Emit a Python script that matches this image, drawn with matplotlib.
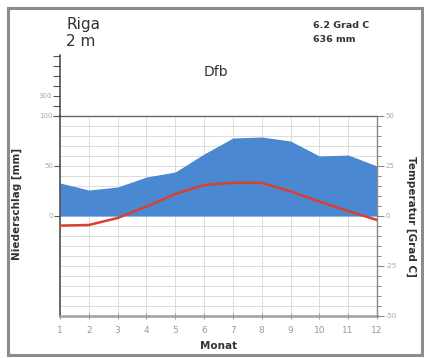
import matplotlib
matplotlib.use("Agg")
import matplotlib.pyplot as plt
from matplotlib.patches import Rectangle
from matplotlib.ticker import MultipleLocator, FixedLocator

# Climate diagram data (Walter-Lieth style)
months = list(range(1, 13))
month_labels = [str(m) for m in months]
precip_mm = [33, 26, 29, 39, 44, 62, 78, 79, 75, 60, 61, 50]
temp_c = [-4.8, -4.5, -1.0, 4.7, 11.0, 15.5, 16.6, 16.6, 12.3, 7.2, 2.5, -2.0]

station = "Riga"
elevation = "2 m"
climate_class = "Dfb"
mean_temp_text = "6.2 Grad C"
annual_precip_text = "636 mm"

precip_ticks = [0, 50, 100]
temp_ticks = [-50, -25, 0, 25, 50]
upper_ticks = [100, 200, 300, 400, 500, 600, 700]
upper_labels = ["", "", "300", "", "", "", ""]

W, H = 428, 358
fig = plt.figure(figsize=(W / 100, H / 100), dpi=100)
fig.patch.set_facecolor("white")


def frac_box(x0, y0, x1, y1):
    return [x0 / W, 1 - y1 / H, (x1 - x0) / W, (y1 - y0) / H]


TICK_GRAY = "#a8a8a8"
GRID = "#dcdcdc"

# Main diagram: precipitation (left) and temperature (right)
ax = fig.add_axes(frac_box(60, 116, 377, 316))
ax.set_xlim(1, 12)
ax.set_ylim(-100, 100)

ax.fill_between(months, 0, precip_mm, color="#4a88d2", lw=0, zorder=2)

for m in months:
    ax.axvline(m, color=GRID, lw=0.7, zorder=1)
for v in range(-90, 100, 10):
    ax.axhline(v, color=GRID, lw=0.7, zorder=1)

ax.set_yticks(precip_ticks)
ax.set_yticklabels([str(t) for t in precip_ticks])
ax.tick_params(axis="y", direction="out", length=4, width=0.8, colors="#555555",
               labelcolor=TICK_GRAY, labelsize=5, pad=1)
ax.set_xticks(months)
ax.set_xticklabels(month_labels)
ax.tick_params(axis="x", direction="inout", length=5, width=0.8, colors="#999999",
               labelcolor="#999999", labelsize=6.5, pad=5)

ax.spines["left"].set_color("#444444")
ax.spines["left"].set_linewidth(1.1)
ax.spines["top"].set_color("#666666")
ax.spines["top"].set_linewidth(1.0)
ax.spines["bottom"].set_color("#a0a0a0")
ax.spines["bottom"].set_linewidth(1.8)
ax.spines["right"].set_visible(False)

ax.set_ylabel("Niederschlag [mm]", fontsize=7.5, fontweight="bold", color="#333333",
              labelpad=12)
ax.yaxis.set_label_coords(-38 / 317, 0.56)
ax.set_xlabel("Monat", fontsize=7.5, fontweight="bold", color="#333333", labelpad=4)

# Temperature axis
axt = ax.twinx()
axt.set_ylim(-50, 50)
axt.plot(months, temp_c, color="#d8412f", lw=1.8, zorder=5)
axt.set_yticks(temp_ticks)
axt.set_yticklabels([str(t) for t in temp_ticks])
axt.yaxis.set_minor_locator(MultipleLocator(5))
axt.tick_params(axis="y", which="major", direction="out", length=5, width=0.8,
                colors="#888888", labelcolor=TICK_GRAY, labelsize=5, pad=1)
axt.tick_params(axis="y", which="minor", direction="out", length=3, width=0.7,
                colors="#888888")
for s in ("left", "top", "bottom"):
    axt.spines[s].set_visible(False)
axt.spines["right"].set_color("#888888")
axt.spines["right"].set_linewidth(1.0)
axt.set_ylabel("Temperatur [Grad C]", fontsize=7.5, fontweight="bold", color="#333333",
               rotation=-90, labelpad=10)
axt.yaxis.set_label_coords(1 + 39 / 317, 0.5)

# Compressed precipitation scale above 100 mm
axu = fig.add_axes(frac_box(60, 55, 377, 116))
axu.set_xlim(1, 12)
axu.set_ylim(100, 710)
axu.patch.set_visible(False)
for s in ("right", "top", "bottom"):
    axu.spines[s].set_visible(False)
axu.spines["left"].set_color("#444444")
axu.spines["left"].set_linewidth(1.1)
axu.set_xticks([])
axu.yaxis.set_major_locator(FixedLocator(upper_ticks))
axu.set_yticklabels(upper_labels)
axu.tick_params(axis="y", direction="out", length=5, width=0.8, colors="#555555",
                labelcolor=TICK_GRAY, labelsize=5, pad=1)

# Header texts
fig.text(66 / W, 1 - 24 / H, station, fontsize=11, color="#333333", va="center", ha="left")
fig.text(66 / W, 1 - 41 / H, elevation, fontsize=11, color="#333333", va="center", ha="left")
fig.text(313 / W, 1 - 25 / H, mean_temp_text, fontsize=6.8, fontweight="bold",
         color="#333333", va="center", ha="left")
fig.text(313 / W, 1 - 39.5 / H, annual_precip_text, fontsize=6.8, fontweight="bold",
         color="#333333", va="center", ha="left")
fig.text(216 / W, 1 - 72 / H, climate_class, fontsize=10, color="#333333",
         va="center", ha="center")

# Outer frame
fig.add_artist(Rectangle((8 / W, 1 - 355 / H), (422 - 8) / W, (355 - 8) / H,
                         transform=fig.transFigure, fill=False, ec="#8c8c8c", lw=2.2))

fig.savefig("out.png", dpi=100, facecolor="white")
